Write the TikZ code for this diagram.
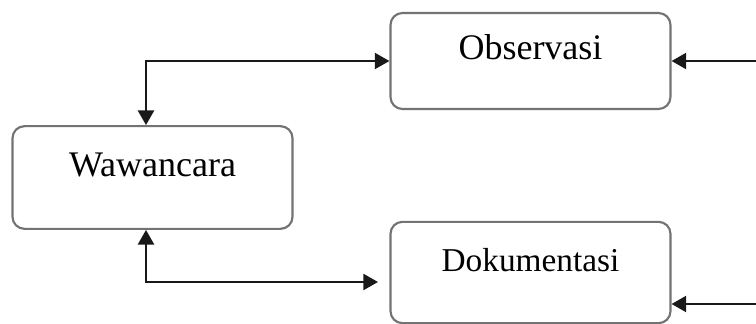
\documentclass[tikz,border=0pt]{standalone}
\usepackage{fontspec}
\setmainfont{Liberation Serif}
\usetikzlibrary{arrows.meta}

\tikzset{
  stepbox/.style={draw=black!55, line width=1.6pt, rounded corners=9pt, fill=white,
    minimum width=210pt, inner sep=0pt, text height=18pt, text depth=19.5pt},
  link/.style={draw=black!90, line width=1.8pt, {Triangle[length=11pt,width=12pt]}-{Triangle[length=11pt,width=12pt]}},
  inlink/.style={draw=black!90, line width=1.8pt, -{Triangle[length=11pt,width=12pt]}}
}

\begin{document}
\begin{tikzpicture}[x=0.75pt,y=0.75pt,yscale=-1,xscale=1]
		\useasboundingbox (0,0) rectangle (756,324);
		\node [stepbox, minimum height=77pt, font=\fontsize{27}{32}\selectfont] (wau) at (152.5,177.5) {Wawancara};
		\node [stepbox, minimum height=72pt, font=\fontsize{27}{32}\selectfont] (obs) at (530.5,61) {Observasi};
		\node [stepbox, minimum height=76pt, font=\fontsize{25}{30}\selectfont] (dok) at (530.5,272.5) {Dokumentasi};
		\coordinate (tj) at (146,61);
		\coordinate (bj) at (146,282);
		\coordinate (dokin) at (378,282);
		\coordinate (obsright) at (757,61);
		\coordinate (dokright) at (757,304);
		\draw [link] (obs.west) -- (tj) -- (tj |- wau.north);
		\draw [link] (dokin) -- (bj) -- (bj |- wau.south);
		\draw [inlink] (obsright) -- (obs.east);
		\draw [inlink] (dokright) -- (dokright -| dok.east);
\end{tikzpicture}
\end{document}
